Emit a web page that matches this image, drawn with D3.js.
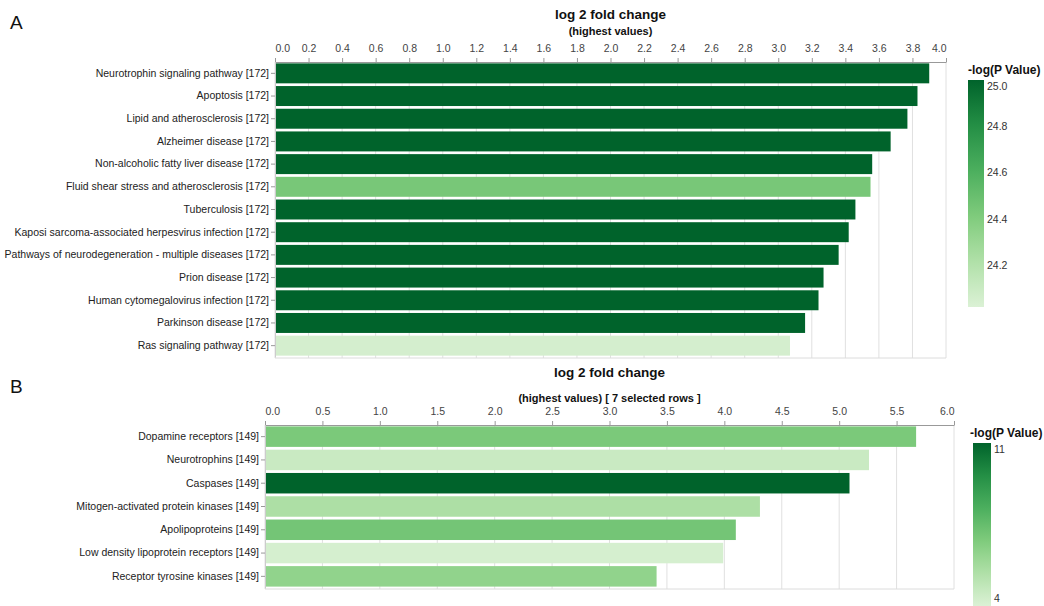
<!DOCTYPE html>
<html>
<head>
<meta charset="utf-8">
<script src="https://cdn.jsdelivr.net/npm/d3@7"></script>
<style>
  html, body { margin: 0; padding: 0; background: #fff; }
  svg { display: block; font-family: "Liberation Sans", Arial, sans-serif; }
</style>
</head>
<body>
<svg id="chart" width="1044" height="606"></svg>
<script>
// panel A - KEGG pathways
const categoriesA = [
  "Neurotrophin signaling pathway [172]",
  "Apoptosis [172]",
  "Lipid and atherosclerosis [172]",
  "Alzheimer disease [172]",
  "Non-alcoholic fatty liver disease [172]",
  "Fluid shear stress and atherosclerosis [172]",
  "Tuberculosis [172]",
  "Kaposi sarcoma-associated herpesvirus infection [172]",
  "Pathways of neurodegeneration - multiple diseases [172]",
  "Prion disease [172]",
  "Human cytomegalovirus infection [172]",
  "Parkinson disease [172]",
  "Ras signaling pathway [172]"
];
const foldA = [3.90, 3.83, 3.77, 3.67, 3.56, 3.55, 3.46, 3.42, 3.36, 3.27, 3.24, 3.16, 3.07];
const pvalA = [25.0, 25.0, 25.0, 25.0, 25.0, 24.44, 25.0, 25.0, 25.0, 25.0, 25.0, 25.0, 24.05];
const xTicksA = [0, 0.2, 0.4, 0.6, 0.8, 1.0, 1.2, 1.4, 1.6, 1.8, 2.0, 2.2, 2.4, 2.6, 2.8, 3.0, 3.2, 3.4, 3.6, 3.8, 4.0];
const legendDomainA = [24.02, 25.0];
const legendTicksA = [24.2, 24.4, 24.6, 24.8, 25.0];

// panel B - protein families
const categoriesB = [
  "Dopamine receptors [149]",
  "Neurotrophins [149]",
  "Caspases [149]",
  "Mitogen-activated protein kinases [149]",
  "Apolipoproteins [149]",
  "Low density lipoprotein receptors [149]",
  "Receptor tyrosine kinases [149]"
];
const foldB = [5.67, 5.26, 5.09, 4.31, 4.10, 3.99, 3.41];
const pvalB = [6.9, 4.6, 11.0, 5.5, 7.1, 4.2, 6.3];
const xTicksB = [0, 0.5, 1.0, 1.5, 2.0, 2.5, 3.0, 3.5, 4.0, 4.5, 5.0, 5.5, 6.0];
const legendDomainB = [4, 11];
const legendTicksB = [4, 11];

const svg = d3.select("#chart");

// зелёная шкала как в легенде
const greenRamp = d3.piecewise(d3.interpolateRgb, ["#dbf1d5", "#b0e0a8", "#7fcb7c", "#4caf5e", "#248f45", "#00632b"]);

function drawPanel(cfg) {
  const g = svg.append("g");
  const x = d3.scaleLinear().domain([0, cfg.xTicks[cfg.xTicks.length - 1]]).range([cfg.left, cfg.right]);
  const y = d3.scaleBand().domain(cfg.categories).range([cfg.top, cfg.bottom]).paddingInner(0.12).paddingOuter(0.06);
  const color = d3.scaleSequential(cfg.legendDomain, greenRamp).clamp(true);

  // panel letter
  g.append("text")
    .attr("x", 10).attr("y", cfg.letterY)
    .attr("font-size", "19px")
    .attr("fill", "#111")
    .text(cfg.letter);

  // titles
  const cx = (cfg.left + cfg.right) / 2;
  g.append("text")
    .attr("x", cx).attr("y", cfg.titleY)
    .attr("text-anchor", "middle")
    .attr("font-size", "13.5px").attr("font-weight", "bold").attr("fill", "#111")
    .text("log 2 fold change");
  g.append("text")
    .attr("x", cx).attr("y", cfg.subtitleY)
    .attr("text-anchor", "middle")
    .attr("font-size", "11px").attr("font-weight", "bold").attr("fill", "#111")
    .text(cfg.subtitle);

  // grid lines
  g.append("g").selectAll("line")
    .data(cfg.xTicks)
    .join("line")
    .attr("x1", d => x(d)).attr("x2", d => x(d))
    .attr("y1", cfg.top).attr("y2", cfg.bottom + 1)
    .attr("stroke", "#e0e0e0").attr("stroke-width", 1);

  g.append("line")
    .attr("x1", cfg.left).attr("x2", cfg.right)
    .attr("y1", cfg.bottom + 1).attr("y2", cfg.bottom + 1)
    .attr("stroke", "#dcdcdc");

  // bars
  g.append("g").selectAll("rect")
    .data(cfg.categories)
    .join("rect")
    .attr("x", x(0))
    .attr("y", d => y(d))
    .attr("width", (d, i) => x(cfg.values[i]) - x(0))
    .attr("height", y.bandwidth())
    .attr("fill", (d, i) => color(cfg.pvals[i]));

  // top axis
  const fmt = d3.format(".1f");
  const xAxis = g.append("g")
    .attr("transform", `translate(0,${cfg.top})`)
    .call(d3.axisTop(x).tickValues(cfg.xTicks).tickFormat(fmt).tickSize(4).tickSizeOuter(0).tickPadding(6));
  xAxis.select(".domain").attr("stroke", "#999");
  xAxis.selectAll(".tick line").attr("stroke", "#999");
  xAxis.selectAll(".tick text")
    .attr("font-size", "10.5px").attr("fill", "#444").attr("font-family", null)
    .attr("text-anchor", (d, i, n) => i === 0 ? "start" : (i === n.length - 1 ? "end" : "middle"));

  // left axis with category labels
  const yAxis = g.append("g")
    .attr("transform", `translate(${cfg.left},0)`)
    .call(d3.axisLeft(y).tickSize(4).tickSizeOuter(0).tickPadding(2));
  yAxis.select(".domain").attr("stroke", "#ccc");
  yAxis.selectAll(".tick line").attr("stroke", "#999");
  yAxis.selectAll(".tick text")
    .attr("font-size", "10.5px").attr("fill", "#222").attr("font-family", null);

  // legend
  const lg = cfg.legend;
  const gradId = "grad" + cfg.letter;
  const grad = svg.append("defs").append("linearGradient")
    .attr("id", gradId).attr("x1", 0).attr("y1", 1).attr("x2", 0).attr("y2", 0);
  d3.range(11).forEach(k => {
    grad.append("stop").attr("offset", k / 10).attr("stop-color", greenRamp(k / 10));
  });
  g.append("text")
    .attr("x", lg.titleX).attr("y", lg.titleY)
    .attr("font-size", "12px").attr("font-weight", "bold").attr("fill", "#111")
    .text("-log(P Value)");
  g.append("rect")
    .attr("x", lg.x).attr("y", lg.top)
    .attr("width", lg.w).attr("height", lg.bottom - lg.top)
    .attr("fill", `url(#${gradId})`);
  const ly = d3.scaleLinear().domain(cfg.legendDomain).range([lg.bottom, lg.top]);
  g.append("g").selectAll("text")
    .data(cfg.legendTicks)
    .join("text")
    .attr("x", lg.x + lg.w + 3)
    .attr("y", d => Math.min(Math.max(ly(d), lg.top + 6), lg.bottom - 8))
    .attr("dy", "0.35em")
    .attr("font-size", "10.5px").attr("fill", "#333")
    .text(cfg.legendFormat);
}

drawPanel({
  letter: "A", letterY: 29,
  categories: categoriesA, values: foldA, pvals: pvalA,
  xTicks: xTicksA, legendDomain: legendDomainA, legendTicks: legendTicksA,
  legendFormat: d3.format(".1f"),
  left: 275, right: 946, top: 62, bottom: 357,
  titleY: 19, subtitleY: 35,
  subtitle: "(highest values)",
  legend: { titleX: 968, titleY: 74, x: 968, w: 16, top: 80, bottom: 307 }
});

drawPanel({
  letter: "B", letterY: 393,
  categories: categoriesB, values: foldB, pvals: pvalB,
  xTicks: xTicksB, legendDomain: legendDomainB, legendTicks: legendTicksB,
  legendFormat: d3.format("d"),
  left: 265, right: 954, top: 425, bottom: 588,
  titleY: 377, subtitleY: 402,
  subtitle: "(highest values) [ 7 selected rows ]",
  legend: { titleX: 970, titleY: 437, x: 973, w: 18, top: 443, bottom: 606 }
});
</script>
</body>
</html>
